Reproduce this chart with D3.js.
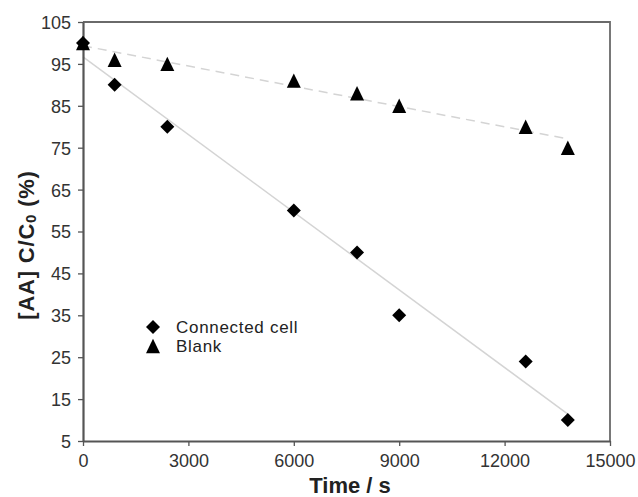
<!DOCTYPE html>
<html><head><meta charset="utf-8">
<script src="https://cdn.jsdelivr.net/npm/d3@7"></script>
<style>body{margin:0;background:#fff;}svg{display:block;}</style>
</head><body>
<svg id="c" width="638" height="497"></svg>
<script>
const timeS = [0, 900, 2400, 6000, 7800, 9000, 12600, 13800];
const connectedCell = [100, 90, 80, 60, 50, 35, 24, 10];
const blank = [100, 96, 95, 91, 88, 85, 80, 75];
const xTicks = [0, 3000, 6000, 9000, 12000, 15000];
const yTicks = [5, 15, 25, 35, 45, 55, 65, 75, 85, 95, 105];
const seriesNames = ["Connected cell", "Blank"];

const svg = d3.select("#c");
const L = 83, R = 610, T = 22, B = 441;
const x = d3.scaleLinear().domain([0, 15000]).range([L, R]);
const y = d3.scaleLinear().domain([5, 105]).range([B, T]);
const font = "Liberation Sans, Arial, sans-serif";

function fit(xs, ys) {
  const n = xs.length, mx = d3.mean(xs), my = d3.mean(ys);
  let sxy = 0, sxx = 0;
  for (let i = 0; i < n; i++) { sxy += (xs[i]-mx)*(ys[i]-my); sxx += (xs[i]-mx)**2; }
  const m = sxy / sxx, b = my - m * mx;
  const x0 = d3.min(xs), x1 = d3.max(xs);
  return [[x0, m*x0+b], [x1, m*x1+b]];
}
const line = d3.line().x(d => x(d[0])).y(d => y(d[1]));

// frame top/right
svg.append("path").attr("d", `M${L},${T}H${R}V${B}`).attr("fill","none").attr("stroke","#6a6a6a").attr("stroke-width",1.8);

// trend lines
svg.append("path").attr("d", line(fit(timeS, connectedCell))).attr("fill","none").attr("stroke","#d4d4d4").attr("stroke-width",1.5);
svg.append("path").attr("d", line(fit(timeS, blank))).attr("fill","none").attr("stroke","#d4d4d4").attr("stroke-width",1.5).attr("stroke-dasharray","9,6");

// axes
const ax = svg.append("g").attr("transform", `translate(0,${B})`).call(d3.axisBottom(x).tickValues(xTicks).tickSize(5).tickSizeOuter(0).tickPadding(8).tickFormat(d3.format("d")));
const ay = svg.append("g").attr("transform", `translate(${L},0)`).call(d3.axisLeft(y).tickValues(yTicks).tickSize(5).tickSizeOuter(0).tickPadding(7).tickFormat(d3.format("d")));
[ax, ay].forEach(g => {
  g.select(".domain").attr("stroke","#555").attr("stroke-width",2.2);
  g.selectAll(".tick line").attr("stroke","#555").attr("stroke-width",1.3);
  g.selectAll(".tick text").attr("fill","#333").style("font-family", font).style("font-size","18px");
});
ay.selectAll(".tick text").attr("dy","0.36em");

// markers (custom shapes, bounding box centred on the data point)
const diamondPath = "M0,-7L7,0L0,7L-7,0Z";
const triPath = "M0,-7.2L7,7.2L-7,7.2Z";
svg.append("g").selectAll("path").data(timeS).join("path")
  .attr("d", diamondPath).attr("transform", (d,i) => `translate(${x(d)},${y(connectedCell[i])})`).attr("fill","#000");
svg.append("g").selectAll("path").data(timeS).join("path")
  .attr("d", triPath).attr("transform", (d,i) => `translate(${x(d)},${y(blank[i])})`).attr("fill","#000");

// legend
const lg = svg.append("g");
lg.append("path").attr("d", diamondPath).attr("transform","translate(153,327)").attr("fill","#000");
lg.append("path").attr("d", triPath).attr("transform","translate(153,346)").attr("fill","#000");
seriesNames.forEach((s,i) => {
  lg.append("text").attr("x",176).attr("y",332.5 + i*19.5).text(s)
    .attr("fill","#222").style("font-family",font).style("font-size","17px").style("letter-spacing","0.7px");
});

// axis titles
svg.append("text").attr("x", 350).attr("y", 493).attr("text-anchor","middle")
  .style("font-family",font).style("font-size","22px").style("font-weight","bold").attr("fill","#222").text("Time / s");
const yt = svg.append("text").attr("transform","translate(34,245) rotate(-90)").attr("text-anchor","middle")
  .style("font-family",font).style("font-size","22px").style("font-weight","bold").style("letter-spacing","0.8px").attr("fill","#222");
yt.append("tspan").text("[AA] C/C");
yt.append("tspan").text("0").style("font-size","15px").attr("dy","2");
yt.append("tspan").text(" (%)").attr("dy","-2");
</script>
</body></html>
